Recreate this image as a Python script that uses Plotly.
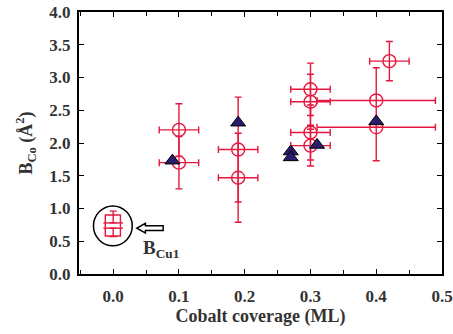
import plotly.graph_objects as go

# Red open circles (Co) with error bars
co_x = [0.10, 0.10, 0.19, 0.19, 0.30, 0.30, 0.30, 0.30, 0.40, 0.40, 0.42]
co_y = [2.20, 1.70, 1.90, 1.47, 2.82, 2.63, 2.16, 1.96, 2.65, 2.24, 3.25]
co_yerr_plus = [0.40, 0.40, 0.80, 0.68, 0.40, 0.42, 0.42, 0.31, 0.50, 0.0, 0.30]
co_yerr_minus = [0.40, 0.40, 0.80, 0.68, 0.40, 0.42, 0.42, 0.31, 0.92, 0.0, 0.30]
co_xerr = [0.03, 0.03, 0.03, 0.03, 0.03, 0.03, 0.03, 0.03, 0.09, 0.09, 0.03]

# Triangles
tri_x = [0.09, 0.19, 0.27, 0.27, 0.31, 0.40]
tri_y = [1.73, 2.31, 1.87, 1.78, 1.97, 2.33]

# B_Cu1 reference point
cu_x = [0.0, 0.0]
cu_y = [0.78, 0.70]
cu_err_plus = [0.18, 0.0]
cu_err_minus = [0.0, 0.13]

x_ticks = [0.0, 0.1, 0.2, 0.3, 0.4, 0.5]
y_ticks = [0.0, 0.5, 1.0, 1.5, 2.0, 2.5, 3.0, 3.5, 4.0]

RED = "#E5173F"
NAVY = "#2B1B6B"
FONT = "Liberation Serif, Times New Roman, serif"
TXT = "#333333"

fig = go.Figure()

fig.add_trace(go.Scatter(
    x=co_x, y=co_y, mode="markers",
    marker=dict(symbol="circle-open", size=13, color=RED, line=dict(width=1.4, color=RED)),
    error_y=dict(type="data", symmetric=False, array=co_yerr_plus, arrayminus=co_yerr_minus,
                 color=RED, thickness=1.4, width=3.5),
    error_x=dict(type="data", array=co_xerr, color=RED, thickness=1.4, width=3.5),
    showlegend=False,
))

fig.add_trace(go.Scatter(
    x=tri_x, y=tri_y, mode="markers",
    marker=dict(symbol="triangle-up", size=13, color=NAVY, line=dict(width=1, color="black")),
    showlegend=False,
))

fig.add_trace(go.Scatter(
    x=cu_x, y=cu_y, mode="markers",
    marker=dict(symbol="line-ew", size=14, color=RED, line=dict(width=1.4, color=RED)),
    error_y=dict(type="data", symmetric=False, array=cu_err_plus, arrayminus=cu_err_minus,
                 color=RED, thickness=1.4, width=3.5),
    showlegend=False,
))

# box around B_Cu1 point
fig.add_shape(type="rect", x0=-0.012, x1=0.011, y0=0.58, y1=0.90,
              line=dict(color=RED, width=1.4), xref="x", yref="y")
# black circle
fig.add_shape(type="circle", x0=-0.030, x1=0.029, y0=0.43, y1=1.04,
              line=dict(color="black", width=1.5), xref="x", yref="y")
# hollow arrow
tip_x, ay = 0.036, 0.70
hx, tx = 0.049, 0.076
hh, bh = 0.075, 0.035
path = (f"M {tip_x},{ay} L {hx},{ay+hh} L {hx},{ay+bh} L {tx},{ay+bh} "
        f"L {tx},{ay-bh} L {hx},{ay-bh} L {hx},{ay-hh} Z")
fig.add_shape(type="path", path=path, line=dict(color="black", width=1.5), xref="x", yref="y")

fig.add_annotation(x=0.073, y=0.38, xref="x", yref="y", showarrow=False,
                   text="B<sub>Cu1</sub>",
                   font=dict(family=FONT, size=19, color=TXT, weight="bold"))

axis_common = dict(showline=True, linecolor="black", linewidth=2, mirror="ticks",
                   ticks="inside", ticklen=5, tickwidth=1, tickcolor="black",
                   showgrid=False, zeroline=False, automargin=False,
                   tickfont=dict(family=FONT, size=17, color=TXT, weight="bold"))

fig.update_xaxes(range=[-0.052, 0.5], tickvals=x_ticks,
                 ticktext=["%.1f" % v for v in x_ticks], ticklabelstandoff=6,
                 minor=dict(dtick=0.05, ticks="inside", ticklen=4, tickcolor="black", showgrid=False),
                 title=dict(text="Cobalt coverage (ML)",
                            font=dict(family=FONT, size=18, color=TXT, weight="bold"), standoff=2),
                 **axis_common)
fig.update_yaxes(range=[0, 4.0], tickvals=y_ticks,
                 ticktext=["%.1f" % v for v in y_ticks], ticklabelstandoff=3,
                 title=dict(text="B<sub>Co</sub> (Å<sup>2</sup>)",
                            font=dict(family=FONT, size=18, color=TXT, weight="bold"), standoff=12),
                 **axis_common)

fig.update_layout(width=453, height=334, margin=dict(l=79, r=11, t=12, b=60),
                  plot_bgcolor="white", paper_bgcolor="white")

fig.write_html("out.html", config={"displayModeBar": False},
               post_script="document.body.style.margin='0';")
